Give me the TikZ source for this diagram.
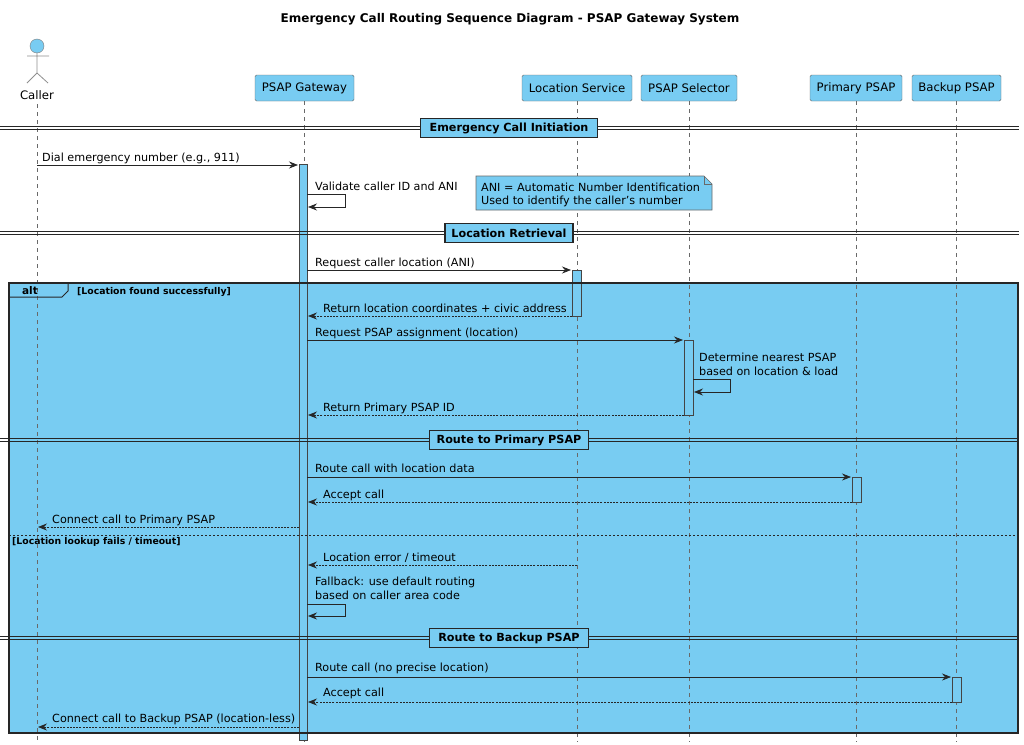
\documentclass[tikz,border=0pt]{standalone}
\usepackage{fontspec}
\setmainfont{DejaVu Sans}
\usetikzlibrary{arrows.meta,shapes.geometric}
\definecolor{fillb}{HTML}{78CCF2}
\definecolor{lineg}{HTML}{444444}
\begin{document}
\begin{tikzpicture}[x=1pt,y=-1pt,
  part/.style={draw=lineg!80,fill=fillb,rounded corners=1.5,minimum height=26,inner sep=3,font=\fontsize{11.7}{14}\selectfont},
  life/.style={lineg!80,dash pattern=on 4 off 4,line width=0.6},
  act/.style={draw=lineg,fill=fillb,line width=0.7},
  msg/.style={draw=black!85,line width=0.7,-{Stealth[length=9,width=7,inset=3]}},
  ret/.style={msg,dash pattern=on 2 off 1.2},
  lab/.style={font=\fontsize{11.2}{13}\selectfont,inner sep=0,anchor=base west},
  div/.style={draw=black!85,fill=fillb,line width=1.6,font=\bfseries\fontsize{11.2}{13}\selectfont,inner sep=3,minimum height=19},
  ]
\useasboundingbox (0,0) rectangle (1024,744);
\fill[white] (0,0) rectangle (1024,744);
\node[font=\bfseries\fontsize{12}{14}\selectfont] (title) at (510,19) {Emergency Call Routing Sequence Diagram - PSAP Gateway System};
% alt frame fill
\fill[fillb] (9,283) rectangle (1018,733);
% participants
\node[part,minimum width=99] (gw) at (304.5,88) {PSAP Gateway};
\node[part,minimum width=110] (ls) at (577,88) {Location Service};
\node[part,minimum width=96] (sel) at (689,88) {PSAP Selector};
\node[part,minimum width=92] (pp) at (856,88) {Primary PSAP};
\node[part,minimum width=89] (bp) at (956.5,88) {Backup PSAP};
\node[circle,draw=lineg!70,fill=fillb,minimum size=14,inner sep=0] (head) at (37,46) {};
\draw[lineg!60,line width=0.8] (head.south) -- (37,73) (27,56) -- (49,56) (27,83) -- (37,73) -- (48,83);
\node[font=\fontsize{11.7}{14}\selectfont] (caller) at (37,95) {Caller};
\coordinate (ce) at (37,742);
\foreach \n in {gw,ls,sel,pp,bp} {\coordinate (\n e) at (\n.south |- 0,742); \draw[life] (\n.south) -- (\n e);}
\draw[life] (37,104) -- (ce);
% activations
\draw[act] (299,164) rectangle (307,740);
\draw[act] (572,270) rectangle (581,316);
\draw[act] (684,340) rectangle (693,415);
\draw[act] (852,477) rectangle (861,502);
\draw[act] (952,677) rectangle (961,702);
% alt frame
\draw[black!85,line width=1.3] (9,283) rectangle (1018,733);
\draw[black!85,line width=1] (9,297) -- (62,297) -- (68,291) -- (68,283);
\node[font=\bfseries\fontsize{10.5}{12}\selectfont,anchor=base] (alt) at (30,294) {alt};
\node[font=\bfseries\fontsize{9.3}{11}\selectfont,anchor=base west,inner sep=0] (g1) at (77,294) {[Location found successfully]};
\draw[black!85,line width=0.8,dash pattern=on 2 off 2] (9,535) -- (1018,535);
\node[font=\bfseries\fontsize{9.3}{11}\selectfont,anchor=base west,inner sep=0] (g2) at (12,544) {[Location lookup fails / timeout]};
% dividers
\foreach \y/\t/\w in {128/Emergency Call Initiation/177,233/Location Retrieval/128,440/Route to Primary PSAP/159,638/Route to Backup PSAP/159} {
  \draw[black!85,line width=0.9] (0,\y-2) -- (1019,\y-2) (0,\y+1.5) -- (1019,\y+1.5);
  \node[div,minimum width=\w] at (509,\y) {\t};
}
% messages
\coordinate (a1) at (37,165); \coordinate (b1) at (298,165);
\draw[msg] (a1) -- (b1);
\node[lab] (l1) at (42,161) {Dial emergency number (e.g., 911)};
\node[lab] (l2) at (315,190) {Validate caller ID and ANI};
\draw[msg] (307,194) -- (345,194) -- (345,207) -- (308,207);
% note
\draw[lineg!80,fill=fillb,line width=0.6] (476,176) -- (704,176) -- (712,184) -- (712,210) -- (476,210) -- cycle;
\draw[lineg!80,line width=0.6] (704,176) -- (704,184) -- (712,184);
\node[lab] (n1) at (481,191) {ANI = Automatic Number Identification};
\node[lab] (n2) at (481,204) {Used to identify the caller's number};
\draw[msg] (307,270) -- (571,270);
\node[lab] at (315,266) {Request caller location (ANI)};
\draw[ret] (572,316) -- (308,316);
\node[lab] at (323,312) {Return location coordinates + civic address};
\draw[msg] (307,340) -- (683,340);
\node[lab] at (315,336) {Request PSAP assignment (location)};
\node[lab] at (699,361) {Determine nearest PSAP};
\node[lab] at (699,375) {based on location \& load};
\draw[msg] (693,379) -- (730,379) -- (730,392) -- (694,392);
\draw[ret] (684,415) -- (308,415);
\node[lab] at (323,411) {Return Primary PSAP ID};
\draw[msg] (307,477) -- (851,477);
\node[lab] at (315,472) {Route call with location data};
\draw[ret] (852,502) -- (308,502);
\node[lab] at (323,498) {Accept call};
\draw[ret] (299,527) -- (38,527);
\node[lab] at (52,523) {Connect call to Primary PSAP};
\draw[ret] (577,565) -- (308,565);
\node[lab] at (323,561) {Location error / timeout};
\node[lab] at (315,585) {Fallback: use default routing};
\node[lab] at (315,599) {based on caller area code};
\draw[msg] (307,604) -- (345,604) -- (345,616) -- (308,616);
\draw[msg] (307,677) -- (951,677);
\node[lab] at (315,671) {Route call (no precise location)};
\draw[ret] (952,702) -- (308,702);
\node[lab] at (323,696) {Accept call};
\draw[ret] (299,727) -- (38,727);
\node[lab] at (52,722) {Connect call to Backup PSAP (location-less)};
\end{tikzpicture}
\end{document}
